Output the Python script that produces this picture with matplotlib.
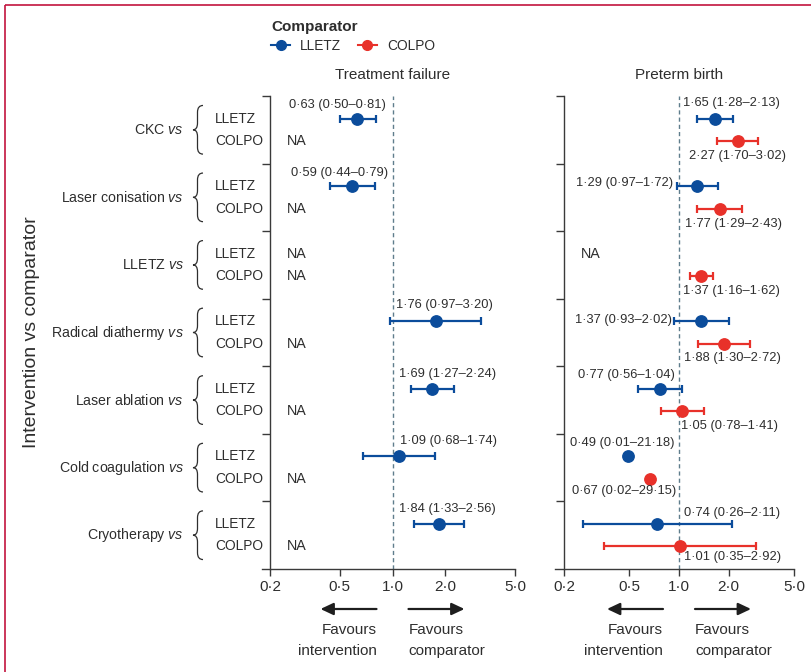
import matplotlib
matplotlib.use('Agg')
import matplotlib.pyplot as plt
import matplotlib.transforms as mtransforms
from matplotlib.lines import Line2D
from matplotlib.path import Path
from matplotlib.patches import PathPatch
from matplotlib.ticker import NullLocator
import numpy as np

# ---------------- data ----------------
groups = ["CKC", "Laser conisation", "LLETZ", "Radical diathermy",
          "Laser ablation", "Cold coagulation", "Cryotherapy"]
comparators = ["LLETZ", "COLPO"]
panel_titles = ["Treatment failure", "Preterm birth"]

# Treatment failure, comparator LLETZ (COLPO all NA)
tf_lletz_est = [0.63, 0.59, None, 1.76, 1.69, 1.09, 1.84]
tf_lletz_lo = [0.50, 0.44, None, 0.97, 1.27, 0.68, 1.33]
tf_lletz_hi = [0.81, 0.79, None, 3.20, 2.24, 1.74, 2.56]
tf_colpo_est = [None] * 7
tf_colpo_lo = [None] * 7
tf_colpo_hi = [None] * 7

# Preterm birth
pb_lletz_est = [1.65, 1.29, None, 1.37, 0.77, 0.49, 0.74]
pb_lletz_lo = [1.28, 0.97, None, 0.93, 0.56, 0.01, 0.26]
pb_lletz_hi = [2.13, 1.72, None, 2.02, 1.04, 21.18, 2.11]
pb_colpo_est = [2.27, 1.77, 1.37, 1.88, 1.05, 0.67, 1.01]
pb_colpo_lo = [1.70, 1.29, 1.16, 1.30, 0.78, 0.02, 0.35]
pb_colpo_hi = [3.02, 2.43, 1.62, 2.72, 1.41, 29.15, 2.92]

xticks = [0.2, 0.5, 1.0, 2.0, 5.0]
xtick_labels = ["0·2", "0·5", "1·0", "2·0", "5·0"]

# ---------------- style / layout ----------------
BLUE = '#0b4c9b'
RED = '#e8312a'
TXT = '#2e2e2e'
AXC = '#3a3a3a'
DASH = '#5f7d8c'
BORDER = '#c2143e'

VAL_FS = 9.3
GROUP_FS = 10.2
COMP_FS = 9.9
NA_FS = 10.3
TITLE_FS = 11
FAV_FS = 11
TICK_FS = 11
YLAB_FS = 14

# label offsets (pixels, image-down positive) relative to each point
tf_lletz_off = [(-20, -14), (-13, -13), None, (8.5, -16.5), (15, -15), (49.5, -15.5), (8.5, -15)]
tf_colpo_off = [None] * 7
pb_lletz_off = [(17, -15.3), (-72.5, -3), None, (-78, -1.6), (-34, -14.3), (-6, -13.3), (75, -10.7)]
pb_colpo_off = [(0, 14.7), (13.6, 15), (29.5, 15.3), (8, 14.4), (47, 15), (-26, 12.3), (53, 11)]

plt.rcParams['font.family'] = ['Liberation Sans', 'DejaVu Sans']
plt.rcParams['font.size'] = 11
plt.rcParams['text.color'] = TXT
plt.rcParams['mathtext.fontset'] = 'custom'
plt.rcParams['mathtext.rm'] = 'Liberation Sans'
plt.rcParams['mathtext.it'] = 'Liberation Sans:italic'

W, H = 811, 672
fig = plt.figure(figsize=(W / 100, H / 100), dpi=100)
bg = fig.add_axes([0, 0, 1, 1])
bg.set_xlim(0, W)
bg.set_ylim(H, 0)
bg.axis('off')


def px_rect(x0, x1, y0, y1):
    return [x0 / W, 1 - y1 / H, (x1 - x0) / W, (y1 - y0) / H]


LOG25 = np.log10(25)
ax1 = fig.add_axes(px_rect(262, 515, 96, 569))
ax2 = fig.add_axes(px_rect(555, 794, 96, 569))
xl1 = 0.2 * 10 ** (-(270 - 262) / 245 * LOG25)
xl2 = 0.2 * 10 ** (-(564 - 555) / 230 * LOG25)
n_rows = len(groups) * 3

for ax, xl in ((ax1, xl1), (ax2, xl2)):
    ax.set_facecolor('none')
    ax.set_xscale('log')
    ax.set_xlim(xl, 5.0)
    ax.set_ylim(n_rows, 0)
    ax.set_xticks(xticks)
    ax.set_xticklabels(xtick_labels)
    ax.xaxis.set_minor_locator(NullLocator())
    ax.set_yticks(np.arange(0, n_rows, 3))
    ax.set_yticklabels([])
    for s in ('top', 'right'):
        ax.spines[s].set_visible(False)
    ax.spines['left'].set_position(('data', 0.2))
    for s in ('left', 'bottom'):
        ax.spines[s].set_color(AXC)
        ax.spines[s].set_linewidth(1.0)
    ax.tick_params(axis='y', direction='out', length=5.5, width=1.0, color=AXC)
    ax.tick_params(axis='x', direction='out', length=5.0, width=1.0, color=AXC,
                   labelcolor=TXT, labelsize=TICK_FS, pad=3)
    ax.axvline(1.0, color=DASH, ls=(0, (3, 2.2)), lw=1.0, zorder=0)


def fmt(e, l, h):
    return f"{e:.2f} ({l:.2f}–{h:.2f})".replace('.', '·')


def draw_series(ax, est, lo, hi, color, ci, offs):
    for g, (e, l, h) in enumerate(zip(est, lo, hi)):
        y = g * 3 + 1 + ci
        if e is None:
            ax.annotate('NA', xy=(0.2, y), xytext=(17, 0), textcoords='offset pixels',
                        ha='left', va='center', fontsize=NA_FS)
            continue
        if l >= 0.2 and h <= 5.0:
            ax.errorbar(e, y, xerr=[[e - l], [h - e]], fmt='o', color=color, ms=8.2,
                        elinewidth=1.6, capsize=3.2, capthick=1.6, zorder=3)
        else:
            ax.plot(e, y, 'o', color=color, ms=8.2, zorder=3)
        dx, dy = offs[g]
        ax.annotate(fmt(e, l, h), xy=(e, y), xytext=(dx, -dy), textcoords='offset pixels',
                    ha='center', va='center', fontsize=VAL_FS)


draw_series(ax1, tf_lletz_est, tf_lletz_lo, tf_lletz_hi, BLUE, 0, tf_lletz_off)
draw_series(ax1, tf_colpo_est, tf_colpo_lo, tf_colpo_hi, RED, 1, tf_colpo_off)
draw_series(ax2, pb_lletz_est, pb_lletz_lo, pb_lletz_hi, BLUE, 0, pb_lletz_off)
draw_series(ax2, pb_colpo_est, pb_colpo_lo, pb_colpo_hi, RED, 1, pb_colpo_off)

# panel titles
for ax, t in zip((ax1, ax2), panel_titles):
    ax.annotate(t, xy=(1.0, 1.0), xycoords=('data', 'axes fraction'), xytext=(0, 21),
                textcoords='offset pixels', ha='center', va='center', fontsize=TITLE_FS)

# group labels, comparator labels and braces
tr = mtransforms.blended_transform_factory(bg.transData, ax1.transData)
for g, name in enumerate(groups):
    yc = g * 3 + 1.5
    bg.text(184, yc, name + r" $\mathit{vs}$", transform=tr, ha='right', va='center',
            fontsize=GROUP_FS)
    for c, comp in enumerate(comparators):
        bg.text(215, g * 3 + 1 + c, comp, transform=tr, ha='left', va='center',
                fontsize=COMP_FS)
    yt, yb = g * 3 + 0.42, g * 3 + 2.58
    xt, xm, xe, r = 193.0, 197.5, 203.0, 0.3
    verts = [(xe, yt), (xm, yt), (xm, yt + r), (xm, yc - r), (xm, yc), (xt, yc),
             (xm, yc), (xm, yc + r), (xm, yb - r), (xm, yb), (xe, yb)]
    codes = [Path.MOVETO, Path.CURVE3, Path.CURVE3, Path.LINETO, Path.CURVE3, Path.CURVE3,
             Path.CURVE3, Path.CURVE3, Path.LINETO, Path.CURVE3, Path.CURVE3]
    bg.add_patch(PathPatch(Path(verts, codes), transform=tr, fill=False, lw=0.9, ec=TXT))

# y label
bg.text(32, 332, 'Intervention vs comparator', rotation=90, ha='center', va='center',
        fontsize=YLAB_FS)

# favours arrows
for ax in (ax1, ax2):
    x1 = ax.transData.transform((1.0, 0))[0]
    ap = dict(arrowstyle='-|>,head_length=0.7,head_width=0.33', color='#1e1e1e', lw=1.6,
              shrinkA=0, shrinkB=0)
    bg.annotate('', xy=(x1 - 72, 609), xytext=(x1 - 16, 609), arrowprops=ap)
    bg.annotate('', xy=(x1 + 72, 609), xytext=(x1 + 16, 609), arrowprops=ap)
    bg.text(x1 - 16, 630, 'Favours', ha='right', va='center', fontsize=FAV_FS)
    bg.text(x1 - 16, 651, 'intervention', ha='right', va='center', fontsize=FAV_FS)
    bg.text(x1 + 16, 630, 'Favours', ha='left', va='center', fontsize=FAV_FS)
    bg.text(x1 + 16, 651, 'comparator', ha='left', va='center', fontsize=FAV_FS)

# legend
handles = [Line2D([], [], color=BLUE, marker='o', ms=7, lw=1.5),
           Line2D([], [], color=RED, marker='o', ms=7, lw=1.5)]
leg = fig.legend(handles, comparators, loc='upper left', bbox_to_anchor=(271 / W, 1 - 20 / H),
                 ncol=2, frameon=False, title='Comparator', alignment='left',
                 handlelength=1.4, handletextpad=0.73, columnspacing=1.2, borderpad=0,
                 borderaxespad=0, labelspacing=0.35, fontsize=9.9, title_fontsize=11,
                 labelcolor=TXT)
leg.get_title().set_fontweight('bold')
leg.get_title().set_color(TXT)

# frame lines
bg.plot([5, W], [5, 5], color=BORDER, lw=1.2, clip_on=False, solid_capstyle='butt')
bg.plot([5, 5], [5, H], color=BORDER, lw=1.2, clip_on=False, solid_capstyle='butt')

fig.savefig('out.png', dpi=100)
